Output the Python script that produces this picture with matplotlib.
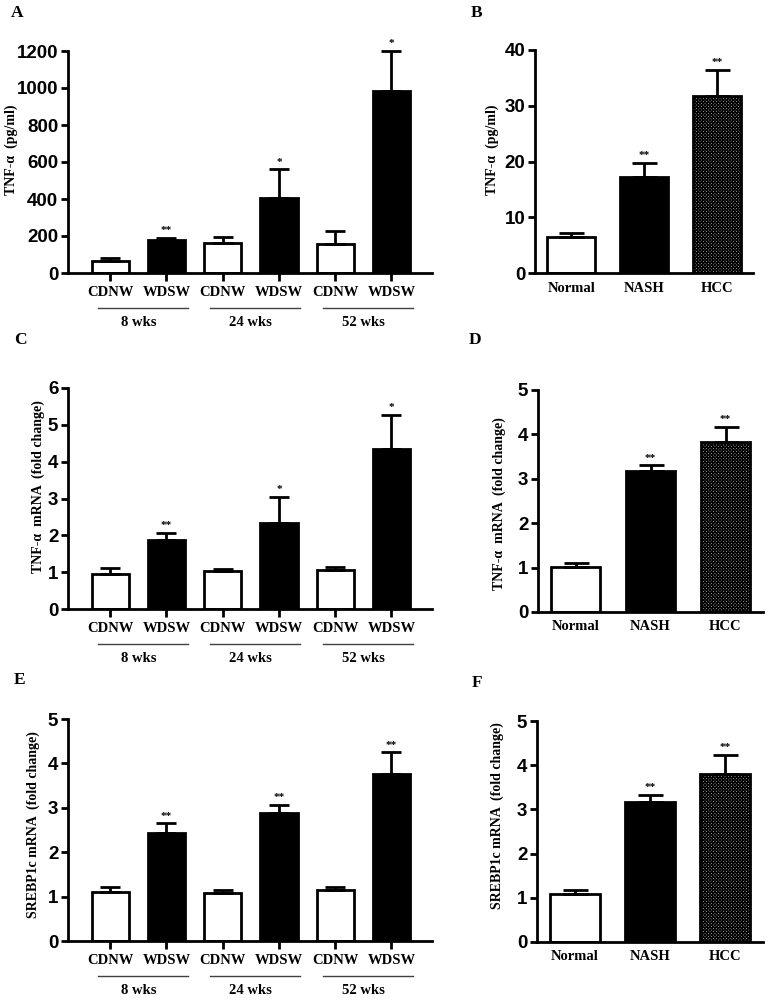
import matplotlib
matplotlib.use("Agg")
import matplotlib.pyplot as plt
import matplotlib.transforms as mtransforms

plt.rcParams["font.family"] = ["Liberation Serif", "DejaVu Serif"]
plt.rcParams["hatch.linewidth"] = 1.0

# --- data (mean, upper error) -------------------------------------------------
DIET_LABELS = ["CDNW", "WDSW", "CDNW", "WDSW", "CDNW", "WDSW"]
WEEK_GROUPS = ["8 wks", "24 wks", "52 wks"]
STAGE_LABELS = ["Normal", "NASH", "HCC"]

a_mean = [63, 177, 164, 406, 157, 986]
a_err = [18, 13, 29, 154, 69, 214]
a_sig = ["", "**", "", "*", "", "*"]

b_mean = [6.4, 17.2, 31.7]
b_err = [0.8, 2.6, 4.7]
b_sig = ["", "**", "**"]

c_mean = [0.95, 1.86, 1.04, 2.33, 1.07, 4.34]
c_err = [0.15, 0.20, 0.04, 0.71, 0.06, 0.93]
c_sig = ["", "**", "", "*", "", "*"]

d_mean = [1.02, 3.17, 3.83]
d_err = [0.08, 0.13, 0.34]
d_sig = ["", "**", "**"]

e_mean = [1.11, 2.44, 1.09, 2.88, 1.14, 3.77]
e_err = [0.11, 0.21, 0.05, 0.18, 0.08, 0.48]
e_sig = ["", "**", "", "**", "", "**"]

f_mean = [1.08, 3.16, 3.81]
f_err = [0.09, 0.17, 0.43]
f_sig = ["", "**", "**"]

W, H = 770, 1000
fig = plt.figure(figsize=(W / 100, H / 100), dpi=100)


def add_axes_px(left, top, right, bottom):
    return fig.add_axes([left / W, 1 - bottom / H, (right - left) / W, (bottom - top) / H])


def below(ax, px):
    """Axes-fraction y for a point px pixels under the x axis."""
    return -px / (ax.get_position().height * H)


def style(ax, yticks, xlim):
    for s in ("top", "right"):
        ax.spines[s].set_visible(False)
    for s in ("left", "bottom"):
        ax.spines[s].set_linewidth(2)
    ax.set_xlim(*xlim)
    ax.set_ylim(yticks[0], yticks[-1])
    ax.set_yticks(yticks, labels=[str(t) for t in yticks],
                  fontfamily="Liberation Sans", fontweight="bold", fontsize=13.5)
    ax.tick_params(axis="y", direction="out", length=5, width=2, pad=2)


def bars(ax, mean, err, sig, colors, hatches, width, cap):
    x = list(range(len(mean)))
    ax.bar(x, mean, width=width, color=colors, edgecolor="k", linewidth=2,
           hatch=hatches, zorder=2)
    ax.errorbar(x, mean, yerr=[[0] * len(err), err], fmt="none", ecolor="k",
                elinewidth=2, capsize=cap, capthick=2, zorder=3, clip_on=False)
    for xi, m, e, s in zip(x, mean, err, sig):
        if s:
            ax.annotate(s, (xi, m + e), xytext=(0, 2), textcoords="offset points",
                        ha="center", va="bottom", fontsize=8, fontweight="bold",
                        annotation_clip=False)
    return x


def side_text(ylabel, ylabel_xy, letter, letter_xy):
    fig.text(ylabel_xy[0] / W, 1 - ylabel_xy[1] / H, ylabel, rotation=90,
             ha="center", va="center", fontsize=10, fontweight="bold")
    fig.text(letter_xy[0] / W, 1 - letter_xy[1] / H, letter, ha="center",
             va="center", fontsize=12.5, fontweight="bold")


def time_course(ax, mean, err, sig, yticks, ylabel, ylabel_xy, letter_xy, letter):
    style(ax, yticks, (-0.75, 5.72))
    x = bars(ax, mean, err, sig, ["white", "black"] * 3, None, 0.66, 7)
    ax.set_xticks(x)
    ax.tick_params(axis="x", length=6, width=2, labelbottom=False)
    tr = mtransforms.blended_transform_factory(ax.transData, ax.transAxes)
    for xi, lab in zip(x, DIET_LABELS):
        ax.text(xi, below(ax, 20), lab, transform=tr, ha="center", va="center",
                fontsize=10.5, fontweight="bold")
    for g, name in enumerate(WEEK_GROUPS):
        c1, c2 = x[2 * g], x[2 * g + 1]
        ax.plot([c1 - 0.22, c2 + 0.38], [below(ax, 35)] * 2, transform=tr,
                color="0.25", lw=1, clip_on=False)
        ax.text((c1 + c2) / 2, below(ax, 49), name, transform=tr, ha="center",
                va="center", fontsize=10.5, fontweight="bold")
    side_text(ylabel, ylabel_xy, letter, letter_xy)


def stages(ax, mean, err, sig, yticks, ylabel, ylabel_xy, letter_xy, letter):
    style(ax, yticks, (-0.5, 2.5))
    x = bars(ax, mean, err, sig, ["white", "black", "#c4c4c4"],
             [None, None, "xxxxxxxxxx"], 0.66, 9)
    ax.set_xticks(x)
    ax.tick_params(axis="x", length=0, labelbottom=False)
    tr = mtransforms.blended_transform_factory(ax.transData, ax.transAxes)
    for xi, lab in zip(x, STAGE_LABELS):
        ax.text(xi, below(ax, 15), lab, transform=tr, ha="center", va="center",
                fontsize=10.5, fontweight="bold")
    side_text(ylabel, ylabel_xy, letter, letter_xy)


axA = add_axes_px(68, 51, 432, 273)
time_course(axA, a_mean, a_err, a_sig, [0, 200, 400, 600, 800, 1000, 1200],
            "TNF-α  (pg/ml)", (11, 150), (17, 13), "A")

axB = add_axes_px(535, 50, 753, 273)
stages(axB, b_mean, b_err, b_sig, [0, 10, 20, 30, 40],
       "TNF-α  (pg/ml)", (492, 150), (477, 13), "B")

axC = add_axes_px(68, 388, 432, 609)
time_course(axC, c_mean, c_err, c_sig, [0, 1, 2, 3, 4, 5, 6],
            "TNF-α  mRNA  (fold change)", (38, 487), (20, 340), "C")

axD = add_axes_px(538, 390, 763, 612)
stages(axD, d_mean, d_err, d_sig, [0, 1, 2, 3, 4, 5],
       "TNF-α  mRNA  (fold change)", (499, 504), (475, 340), "D")

axE = add_axes_px(68, 719, 432, 941)
time_course(axE, e_mean, e_err, e_sig, [0, 1, 2, 3, 4, 5],
            "SREBP1c mRNA  (fold change)", (33, 825), (20, 680), "E")

axF = add_axes_px(537, 721, 763, 942)
stages(axF, f_mean, f_err, f_sig, [0, 1, 2, 3, 4, 5],
       "SREBP1c mRNA  (fold change)", (497, 816), (477, 683), "F")

fig.savefig("out.png", dpi=100)
plt.close(fig)
